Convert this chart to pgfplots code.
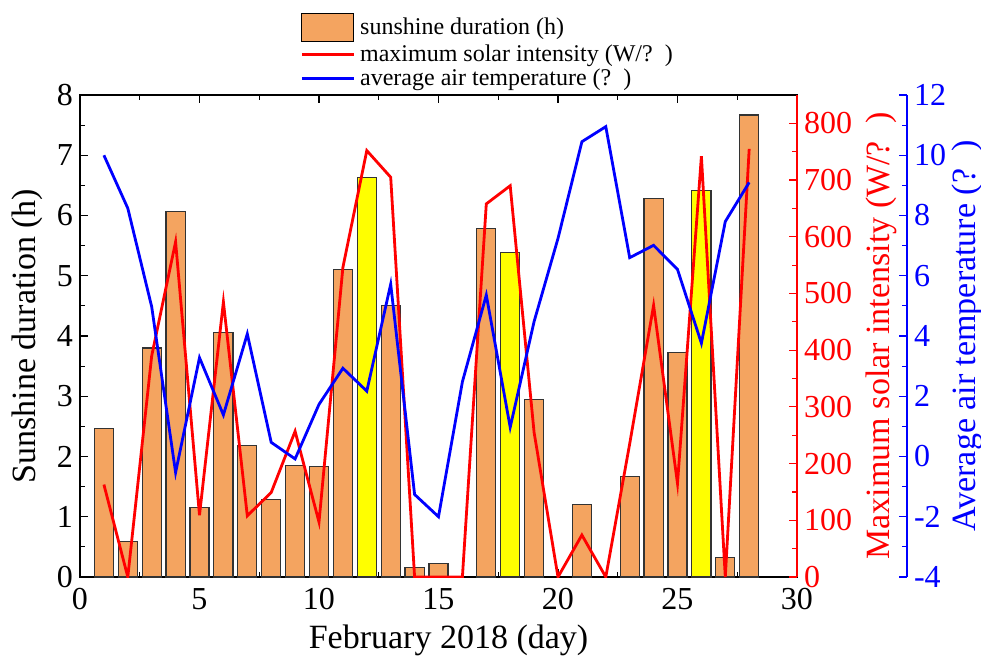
\documentclass[border=0pt]{standalone}
\usepackage{pgfplots}
\pgfplotsset{compat=1.18}
\usepackage{fontspec}
\setmainfont{Liberation Serif}
\definecolor{sandy}{HTML}{F4A460}
\definecolor{yel}{HTML}{FFFF00}

\pgfplotsset{
  base/.style={
    scale only axis, width=358.5pt, height=241pt,
    xmin=0, xmax=30,
    /pgf/number format/assume math mode=true,
    tick label style={font=\fontsize{16}{18}\selectfont},
    label style={font=\fontsize{17}{19}\selectfont},
    tick align=inside,
    major tick length=4pt, minor tick length=2.5pt,
    every tick/.style={line width=0.6pt},
    axis line style={line width=0.8pt},
  }
}

\pgfplotstableread{
day sun
1 2.46
2 0.59
3 3.80
4 6.07
5 1.16
6 4.06
7 2.18
8 1.29
9 1.85
10 1.83
11 5.11
13 4.50
14 0.16
15 0.23
17 5.79
19 2.95
21 1.21
23 1.67
24 6.28
25 3.73
27 0.32
28 7.67
}\sunorange

\pgfplotstableread{
day sun
12 6.63
18 5.39
26 6.42
}\sunyellow

\pgfplotstableread{
day rad
1 163
2 0
3 390
4 591
5 109
6 485
7 108
8 149
9 257
10 97
11 546
12 752
13 705
14 0
15 0
16 0
17 658
18 690
19 255
20 0
21 74
22 0
23 235
24 479
25 165
26 742
27 0
28 755
}\radiation

\pgfplotstableread{
day temp
1 10.0
2 8.24
3 4.97
4 -0.53
5 3.28
6 1.38
7 4.07
8 0.47
9 -0.08
10 1.73
11 2.93
12 2.17
13 5.72
14 -1.26
15 -2.0
16 2.48
17 5.36
18 0.97
19 4.48
20 7.24
21 10.45
22 10.95
23 6.6
24 7.01
25 6.21
26 3.76
27 7.8
28 9.1
}\temperature

\begin{document}
\begin{tikzpicture}
\useasboundingbox (-40pt,-42pt) rectangle (450.5pt,288.5pt);

% axis 1: sunshine bars
\begin{axis}[base,
  ymin=0, ymax=8,
  ytick={0,1,...,8}, minor y tick num=1,
  xtick={0,5,...,30}, minor x tick num=1,
  ytick pos=left,
  xticklabel style={yshift=-2pt},
  xlabel={February 2018 (day)},
  ylabel={Sunshine duration (h)},
  xlabel style={yshift=-1pt, xshift=5pt},
  legend style={at={(rel axis cs:0.3068,1.171)}, anchor=north west, draw=none, fill=none,
    inner sep=0pt, font=\fontsize{12}{13}\selectfont, row sep=0pt,
    nodes={inner xsep=2.5pt, inner ysep=1.2pt}},
  legend cell align=left,
]
\addlegendimage{legend image code/.code={\draw[fill=sandy,draw=black,line width=0.6pt] (0pt,-7pt) rectangle (26pt,7pt);}}
\addlegendentry{sunshine duration (h)}
\addlegendimage{legend image code/.code={\draw[red,line width=1.4pt] (0pt,0pt) -- (26pt,0pt);}}
\addlegendentry{maximum solar intensity (W/?\ \ )}
\addlegendimage{legend image code/.code={\draw[blue,line width=1.4pt] (0pt,0pt) -- (26pt,0pt);}}
\addlegendentry{average air temperature (?\ \ )}
\addplot[ybar, bar width=0.8, bar shift=0pt, fill=sandy, draw=black!80, line width=0.6pt] table[x=day,y=sun] {\sunorange};
\addplot[ybar, bar width=0.8, bar shift=0pt, fill=yel, draw=black!80, line width=0.6pt] table[x=day,y=sun] {\sunyellow};
\end{axis}

% axis 2: red radiation
\begin{axis}[base,
  axis x line=none,
  axis y line*=right,
  ymin=0, ymax=850,
  ytick={0,100,...,800}, minor y tick num=1,
  y axis line style={red},
  ytick style={red},
  yticklabel style={red},
  ylabel style={red},
  ylabel={Maximum solar intensity (W/?\ \ )},
]
\addplot[red, line width=1.4pt] table[x=day,y=rad] {\radiation};
\end{axis}

% axis 3: blue temperature line
\begin{axis}[base,
  hide axis,
  ymin=-4, ymax=12,
]
\addplot[blue, line width=1.4pt] table[x=day,y=temp] {\temperature};
\end{axis}

% axis 4: blue y axis only
\begin{axis}[base,
  at={(55pt,0pt)},
  axis x line=none,
  axis y line*=right,
  ymin=-4, ymax=12,
  ytick={-4,-2,...,12}, minor y tick num=1,
  y axis line style={blue},
  ytick style={blue},
  yticklabel style={blue},
  ylabel style={blue},
  ylabel shift=-4pt,
  ylabel={Average air temperature (?\ \ )},
]
\addplot[draw=none] coordinates {(1,0)};
\end{axis}
\end{tikzpicture}
\end{document}
